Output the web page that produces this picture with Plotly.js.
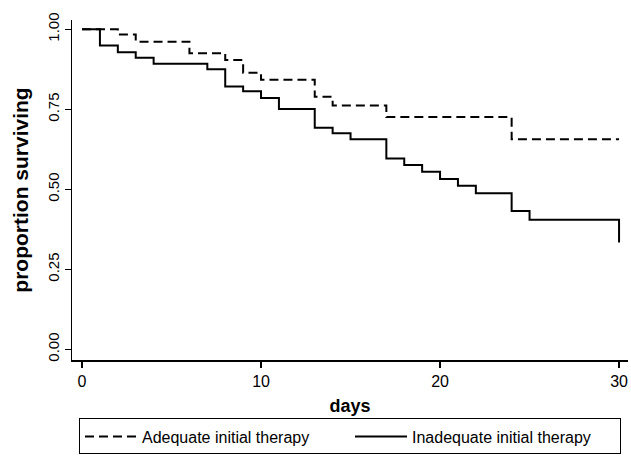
<!DOCTYPE html>
<html>
<head>
<meta charset="utf-8">
<script src="https://cdn.plot.ly/plotly-3.0.1.min.js"></script>
<style>html,body{margin:0;padding:0;background:#fff;}#chart{width:631px;height:457px;}</style>
</head>
<body>
<div id="chart"></div>
<script>
// Kaplan-Meier step data
const adequateDays = [0, 2, 3, 6, 8, 9, 10, 13, 14, 17, 24, 30];
const adequateSurv = [1.00, 0.984, 0.961, 0.925, 0.904, 0.864, 0.842, 0.789, 0.762, 0.726, 0.656, 0.656];
const inadequateDays = [0, 1, 2, 3, 4, 7, 8, 9, 10, 11, 13, 14, 15, 17, 18, 19, 20, 21, 22, 24, 25, 30];
const inadequateSurv = [1.00, 0.949, 0.928, 0.911, 0.892, 0.875, 0.821, 0.806, 0.785, 0.751, 0.692, 0.675, 0.656, 0.596, 0.576, 0.555, 0.532, 0.511, 0.488, 0.432, 0.405, 0.334];
const seriesNames = ['Adequate initial therapy', 'Inadequate initial therapy'];
const xTicks = [0, 10, 20, 30];
const yTicks = [0, 0.25, 0.5, 0.75, 1];

const font = 'Arial, "Liberation Sans", sans-serif';

const traces = [
  {x: adequateDays, y: adequateSurv, name: seriesNames[0], mode: 'lines',
   line: {shape: 'hv', color: '#000', width: 2, dash: '9px,5px'}},
  {x: inadequateDays, y: inadequateSurv, name: seriesNames[1], mode: 'lines',
   line: {shape: 'hv', color: '#000', width: 2}}
];

const layout = {
  width: 631, height: 457,
  margin: {l: 72, r: 3, t: 20, b: 97},
  paper_bgcolor: '#fff', plot_bgcolor: '#fff',
  font: {family: font, color: '#000', size: 15},
  showlegend: true,
  xaxis: {
    range: [-0.56, 30.5], tickvals: xTicks, ticktext: xTicks.map(String),
    showgrid: false, zeroline: false, showline: true, linecolor: '#000', linewidth: 1.5,
    ticks: 'outside', ticklen: 6, tickwidth: 1.5, tickcolor: '#000',
    tickfont: {size: 16}, automargin: false,
    title: {text: '<b>days</b>', font: {size: 18}, standoff: 10}
  },
  yaxis: {
    range: [-0.0334, 1.029], tickvals: yTicks, tickformat: '.2f',
    showgrid: false, zeroline: false, showline: true, linecolor: '#000', linewidth: 1.5,
    ticks: 'outside', ticklen: 6, tickwidth: 1.5, tickcolor: '#000',
    tickangle: -90, tickfont: {size: 15}, automargin: false,
    title: {text: '<b>proportion surviving</b>', font: {size: 21}, standoff: 10}
  },
  legend: {
    orientation: 'h', x: 0.5, xanchor: 'center', xref: 'paper',
    y: -0.172, yanchor: 'top',
    bordercolor: '#000', borderwidth: 1, bgcolor: '#fff',
    font: {size: 16}, itemwidth: 52, entrywidth: 203, entrywidthmode: 'pixels'
  }
};

Plotly.newPlot('chart', traces, layout, {displayModeBar: false, staticPlot: true});
</script>
</body>
</html>
